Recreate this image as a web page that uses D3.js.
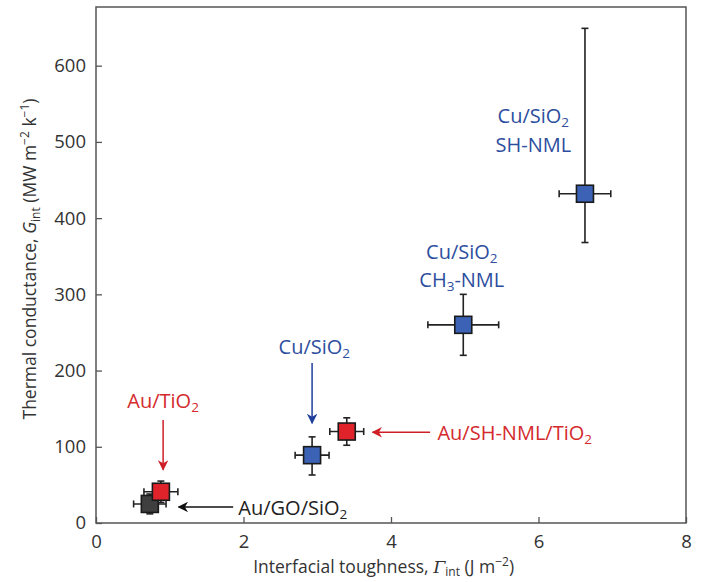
<!DOCTYPE html>
<html>
<head>
<meta charset="utf-8">
<script src="https://cdn.jsdelivr.net/npm/d3@7"></script>
<style>
  body { margin: 0; background: #fff; }
  svg { display: block; font-family: "Open Sans", "Noto Sans", sans-serif; }
</style>
</head>
<body>
<svg id="chart" width="702" height="582"></svg>
<script>
'use strict';

// data
var names   = ["Au/GO/SiO2", "Au/TiO2", "Cu/SiO2", "Au/SH-NML/TiO2", "Cu/SiO2 CH3-NML", "Cu/SiO2 SH-NML"];
var xVals   = [0.73, 0.88, 2.93, 3.40, 4.98, 6.63];
var yVals   = [25, 41, 89, 120, 260, 432];
var xErr    = [0.22, 0.23, 0.23, 0.23, 0.48, 0.35];
var yErrLo  = [13, 14, 26, 18, 40, 64];
var yErrHi  = [13, 14, 24, 18, 40, 217];
var groups  = ["gray", "red", "blue", "red", "blue", "blue"];

var xTicks = [0, 2, 4, 6, 8];
var yTicks = [0, 100, 200, 300, 400, 500, 600];

var fills = { gray: "#3f3f3f", red: "#e0232b", blue: "#3b62b4" };

var svg = d3.select("#chart");
var margin = { left: 96, top: 7, right: 16, bottom: 59 };
var width = 702 - margin.left - margin.right;
var height = 582 - margin.top - margin.bottom;

var x = d3.scaleLinear().domain([0, 8]).range([0, width]);
var y = d3.scaleLinear().domain([0, 677]).range([height, 0]);

var g = svg.append("g").attr("transform", "translate(" + margin.left + "," + margin.top + ")");

// frame
g.append("rect")
  .attr("width", width).attr("height", height)
  .attr("fill", "none").attr("stroke", "#555").attr("stroke-width", 1.5);

// axes with inward ticks
var xAxis = g.append("g").attr("transform", "translate(0," + height + ")")
  .call(d3.axisBottom(x).tickValues(xTicks).tickSizeInner(-6).tickSizeOuter(0).tickPadding(12));
var yAxis = g.append("g")
  .call(d3.axisLeft(y).tickValues(yTicks).tickSizeInner(-6).tickSizeOuter(0).tickPadding(10));

[xAxis, yAxis].forEach(function(a) {
  a.select(".domain").remove();
  a.selectAll("line").attr("stroke", "#555").attr("stroke-width", 1.3);
  a.selectAll("text").attr("font-size", 18.5).attr("fill", "#333")
    .attr("font-family", "'Open Sans', sans-serif");
});

// axis titles
var xt = svg.append("text")
  .attr("x", margin.left + x(3.9)).attr("y", 573)
  .attr("text-anchor", "middle").attr("font-size", 17.5).attr("fill", "#333");
xt.append("tspan").text("Interfacial toughness,  ");
xt.append("tspan").attr("font-style", "italic").attr("font-family", "'DejaVu Serif', serif").text("Γ");
xt.append("tspan").attr("font-size", 12).attr("dy", 3).text("int");
xt.append("tspan").attr("dy", -3).text(" (J m");
xt.append("tspan").attr("font-size", 12).attr("dy", -7).text("−2");
xt.append("tspan").attr("dy", 7).text(")");

var yt = svg.append("text")
  .attr("transform", "translate(36,259) rotate(-90)")
  .attr("text-anchor", "middle").attr("font-size", 17.5).attr("fill", "#333");
yt.append("tspan").text("Thermal conductance, ");
yt.append("tspan").attr("font-style", "italic").text("G");
yt.append("tspan").attr("font-size", 12).attr("dy", 4).text("int");
yt.append("tspan").attr("dy", -4).text(" (MW m");
yt.append("tspan").attr("font-size", 12).attr("dy", -7).text("−2");
yt.append("tspan").attr("dy", 7).text(" k");
yt.append("tspan").attr("font-size", 12).attr("dy", -7).text("−1");
yt.append("tspan").attr("dy", 7).text(")");

// points with error bars
var data = names.map(function(n, i) {
  return { name: n, x: xVals[i], y: yVals[i], xe: xErr[i], lo: yErrLo[i], hi: yErrHi[i], group: groups[i] };
});

var cap = 3.5, size = 17;
var pts = g.selectAll(".pt").data(data).enter().append("g").attr("class", "pt");

pts.each(function(d) {
  var el = d3.select(this);
  var cx = x(d.x), cy = y(d.y);
  var segs = [
    [x(d.x - d.xe), cy, x(d.x + d.xe), cy],
    [cx, y(d.y - d.lo), cx, y(d.y + d.hi)],
    [x(d.x - d.xe), cy - cap, x(d.x - d.xe), cy + cap],
    [x(d.x + d.xe), cy - cap, x(d.x + d.xe), cy + cap],
    [cx - cap, y(d.y - d.lo), cx + cap, y(d.y - d.lo)],
    [cx - cap, y(d.y + d.hi), cx + cap, y(d.y + d.hi)]
  ];
  el.selectAll("line").data(segs).enter().append("line")
    .attr("x1", function(s) { return s[0]; }).attr("y1", function(s) { return s[1]; })
    .attr("x2", function(s) { return s[2]; }).attr("y2", function(s) { return s[3]; })
    .attr("stroke", "#222").attr("stroke-width", 1.6);
  el.append("rect")
    .attr("x", cx - size / 2).attr("y", cy - size / 2)
    .attr("width", size).attr("height", size)
    .attr("fill", fills[d.group]).attr("stroke", "#1a1a1a").attr("stroke-width", 1.6);
});

// annotations
var textColors = { black: "#222", red: "#d42a2d", blue: "#2d4e9e" };
var arrowColors = { black: "#111", red: "#cf2027", blue: "#1f3f9c" };

var defs = svg.append("defs");
Object.keys(arrowColors).forEach(function(k) {
  defs.append("marker").attr("id", "arrow-" + k)
    .attr("viewBox", "0 0 10 10").attr("refX", 9).attr("refY", 5)
    .attr("markerWidth", 7).attr("markerHeight", 7).attr("orient", "auto")
    .append("path").attr("d", "M0,0 L10,5 L0,10 L3,5 Z").attr("fill", arrowColors[k]);
});

// label lines: parts are [string, isSubscript]
var labelLines = [
  { c: "blue", x: 5.93, y: 525, anchor: "middle", parts: [["Cu/SiO", 0], ["2", 1]] },
  { c: "blue", x: 5.93, y: 487, anchor: "middle", parts: [["SH-NML", 0]] },
  { c: "blue", x: 4.96, y: 347, anchor: "middle", parts: [["Cu/SiO", 0], ["2", 1]] },
  { c: "blue", x: 4.96, y: 309, anchor: "middle", parts: [["CH", 0], ["3", 1], ["-NML", 0]] },
  { c: "blue", x: 2.96, y: 222, anchor: "middle", parts: [["Cu/SiO", 0], ["2", 1]] },
  { c: "red", x: 4.63, y: 109, anchor: "start", parts: [["Au/SH-NML/TiO", 0], ["2", 1]] },
  { c: "red", x: 0.91, y: 151, anchor: "middle", parts: [["Au/TiO", 0], ["2", 1]] },
  { c: "black", x: 1.93, y: 10.5, anchor: "start", parts: [["Au/GO/SiO", 0], ["2", 1]] }
];

var arrows = [
  { c: "blue", x1: 2.93, y1: 210, x2: 2.93, y2: 131 },
  { c: "red", x1: 4.53, y1: 119, x2: 3.75, y2: 119 },
  { c: "red", x1: 0.91, y1: 135, x2: 0.91, y2: 70 },
  { c: "black", x1: 1.86, y1: 21, x2: 1.12, y2: 21 }
];

labelLines.forEach(function(l) {
  var t = g.append("text")
    .attr("x", x(l.x)).attr("y", y(l.y))
    .attr("text-anchor", l.anchor).attr("font-size", 20).attr("fill", textColors[l.c]);
  var sub = false;
  l.parts.forEach(function(p) {
    var ts = t.append("tspan").text(p[0]);
    if (p[1] && !sub) { ts.attr("font-size", 13.5).attr("dy", 4); sub = true; }
    else if (!p[1] && sub) { ts.attr("dy", -4); sub = false; }
  });
});

g.selectAll(".arrow").data(arrows).enter().append("line")
  .attr("class", "arrow")
  .attr("x1", function(d) { return x(d.x1); }).attr("y1", function(d) { return y(d.y1); })
  .attr("x2", function(d) { return x(d.x2); }).attr("y2", function(d) { return y(d.y2); })
  .attr("stroke", function(d) { return arrowColors[d.c]; })
  .attr("stroke-width", 1.5)
  .attr("marker-end", function(d) { return "url(#arrow-" + d.c + ")"; });
</script>
</body>
</html>
